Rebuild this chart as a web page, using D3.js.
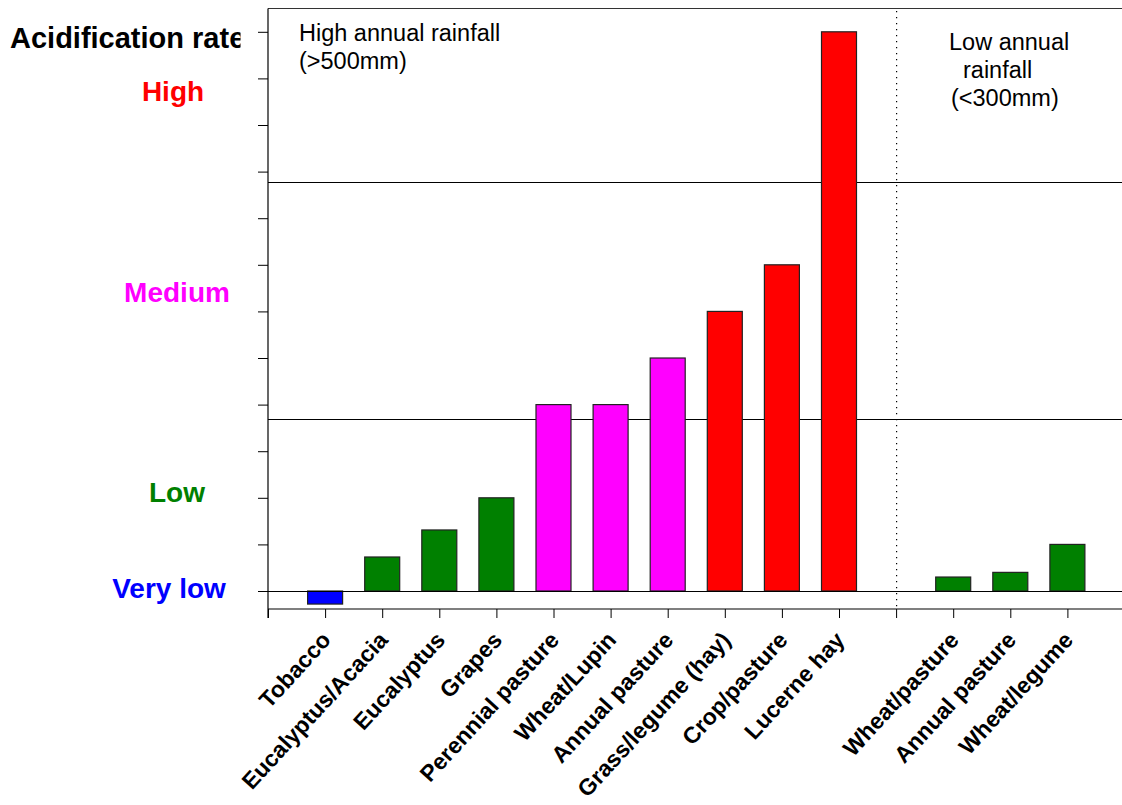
<!DOCTYPE html>
<html>
<head>
<meta charset="utf-8">
<script src="https://cdn.jsdelivr.net/npm/d3@7"></script>
<style>
  html, body { margin: 0; padding: 0; background: #fff; }
  svg { display: block; font-family: "Liberation Sans", Arial, Helvetica, sans-serif; }
</style>
</head>
<body>
<svg id="chart" width="1122" height="805"></svg>
<script>
// ---- Data ----
const categories = ["Tobacco", "Eucalyptus/Acacia", "Eucalyptus", "Grapes", "Perennial pasture",
  "Wheat/Lupin", "Annual pasture", "Grass/legume (hay)", "Crop/pasture", "Lucerne hay",
  "Wheat/pasture", "Annual pasture", "Wheat/legume"];
const slots = [0, 1, 2, 3, 4, 5, 6, 7, 8, 9, 11, 12, 13];   // slot 10 is the rainfall divider
const values = [-0.28, 0.73, 1.31, 2.0, 4.0, 4.0, 5.0, 6.0, 7.0, 12.0, 0.3, 0.4, 1.0];
const rateClass = ["Very low", "Low", "Low", "Low", "Medium", "Medium", "Medium", "High", "High", "High",
  "Low", "Low", "Low"];
const rateNames = ["High", "Medium", "Low", "Very low"];
const rateColors = ["#FF0000", "#FF00FF", "#008000", "#0000FF"];
const bandLines = [3.69, 8.78];
const yTicks = [0, 1, 2, 3, 4, 5, 6, 7, 8, 9, 10, 11, 12];
const dividerSlot = 10;

// ---- Layout ----
const svg = d3.select("#chart");
const pL = 268, pT = 8.5, pB = 609, step = 57.1, pR = 1122;
const x = d3.scaleLinear().domain([-1, 14]).range([pL, pL + 15 * step]);
const y = d3.scaleLinear().domain([-0.386, 12.5]).range([pB, pT]);
const color = d3.scaleOrdinal().domain(rateNames).range(rateColors);
const barW = 35;

// horizontal threshold lines
svg.selectAll("line.band").data(bandLines).join("line")
  .attr("class", "band")
  .attr("x1", pL).attr("x2", pR)
  .attr("y1", d => Math.round(y(d)) + 0.5).attr("y2", d => Math.round(y(d)) + 0.5)
  .attr("stroke", "#000").attr("stroke-width", 1);

// top border
svg.append("line").attr("x1", pL).attr("x2", pR).attr("y1", pT).attr("y2", pT)
  .attr("stroke", "#333").attr("stroke-width", 1.2);

// dotted divider
svg.append("line")
  .attr("x1", x(dividerSlot) + 0.5).attr("x2", x(dividerSlot) + 0.5)
  .attr("y1", 11).attr("y2", pB)
  .attr("stroke", "#000").attr("stroke-width", 1.2).attr("stroke-dasharray", "1.2,4.8");

// bars
svg.selectAll("rect.bar").data(values).join("rect")
  .attr("class", "bar")
  .attr("x", (d, i) => x(slots[i]) - barW / 2)
  .attr("width", barW)
  .attr("y", d => y(Math.max(0, d)))
  .attr("height", d => Math.abs(y(d) - y(0)))
  .attr("fill", (d, i) => color(rateClass[i]))
  .attr("stroke", "#222").attr("stroke-width", 1.2);

// zero line
svg.append("line").attr("x1", pL - 10).attr("x2", pR)
  .attr("y1", Math.round(y(0)) + 0.5).attr("y2", Math.round(y(0)) + 0.5)
  .attr("stroke", "#000").attr("stroke-width", 1);

// y axis (ticks outward, no labels)
const yAxis = d3.axisLeft(y).tickValues(yTicks).tickSize(10).tickFormat("").tickSizeOuter(0);
const gy = svg.append("g").attr("transform", `translate(${pL},0)`).call(yAxis);
gy.select(".domain").remove();
gy.selectAll(".tick line").attr("stroke", "#000");
svg.append("line").attr("x1", pL).attr("x2", pL).attr("y1", pT).attr("y2", pB + 9)
  .attr("stroke", "#000").attr("stroke-width", 1.2);

// x axis
const xTickVals = d3.range(-1, 14);
const xAxis = d3.axisBottom(x).tickValues(xTickVals).tickSize(9).tickFormat("").tickSizeOuter(0);
const gx = svg.append("g").attr("transform", `translate(0,${pB})`).call(xAxis);
gx.select(".domain").remove();
gx.selectAll(".tick line").attr("stroke", "#000");
svg.append("line").attr("x1", pL).attr("x2", pR).attr("y1", pB).attr("y2", pB)
  .attr("stroke", "#000").attr("stroke-width", 1.2);

// category labels
svg.selectAll("text.cat").data(categories).join("text")
  .attr("class", "cat")
  .attr("transform", (d, i) => `translate(${x(slots[i]) + 7},${pB + 32}) rotate(-47.5)`)
  .attr("text-anchor", "end")
  .attr("font-size", 23).attr("font-weight", "bold").attr("fill", "#000")
  .text(d => d);

// left rate labels
svg.append("clipPath").attr("id", "titleClip").append("rect")
  .attr("x", 0).attr("y", 0).attr("width", 240.5).attr("height", 80);
svg.append("text").attr("x", 10).attr("y", 48).attr("clip-path", "url(#titleClip)")
  .attr("font-size", 29).attr("font-weight", "bold").attr("fill", "#000")
  .text("Acidification rate");

const rateLabelY = [101, 302, 502, 598];
const rateLabelX = [173, 177, 177, 169];
svg.selectAll("text.rate").data(rateNames).join("text")
  .attr("class", "rate")
  .attr("x", (d, i) => rateLabelX[i]).attr("y", (d, i) => rateLabelY[i])
  .attr("text-anchor", "middle")
  .attr("font-size", 28).attr("font-weight", "bold")
  .attr("fill", d => color(d))
  .text(d => d);

// rainfall annotations
const highRain = ["High annual rainfall", "(>500mm)"];
svg.selectAll("text.hr").data(highRain).join("text").attr("class", "hr")
  .attr("x", 299).attr("y", (d, i) => 41 + i * 28)
  .attr("font-size", 23.5).attr("fill", "#000").text(d => d);
const lowRain = ["Low annual", "rainfall", "(<300mm)"];
const lowRainX = [949, 963, 951];
svg.selectAll("text.lr").data(lowRain).join("text").attr("class", "lr")
  .attr("x", (d, i) => lowRainX[i]).attr("y", (d, i) => 50 + i * 28)
  .attr("font-size", 23.5).attr("fill", "#000").text(d => d);
</script>
</body>
</html>
